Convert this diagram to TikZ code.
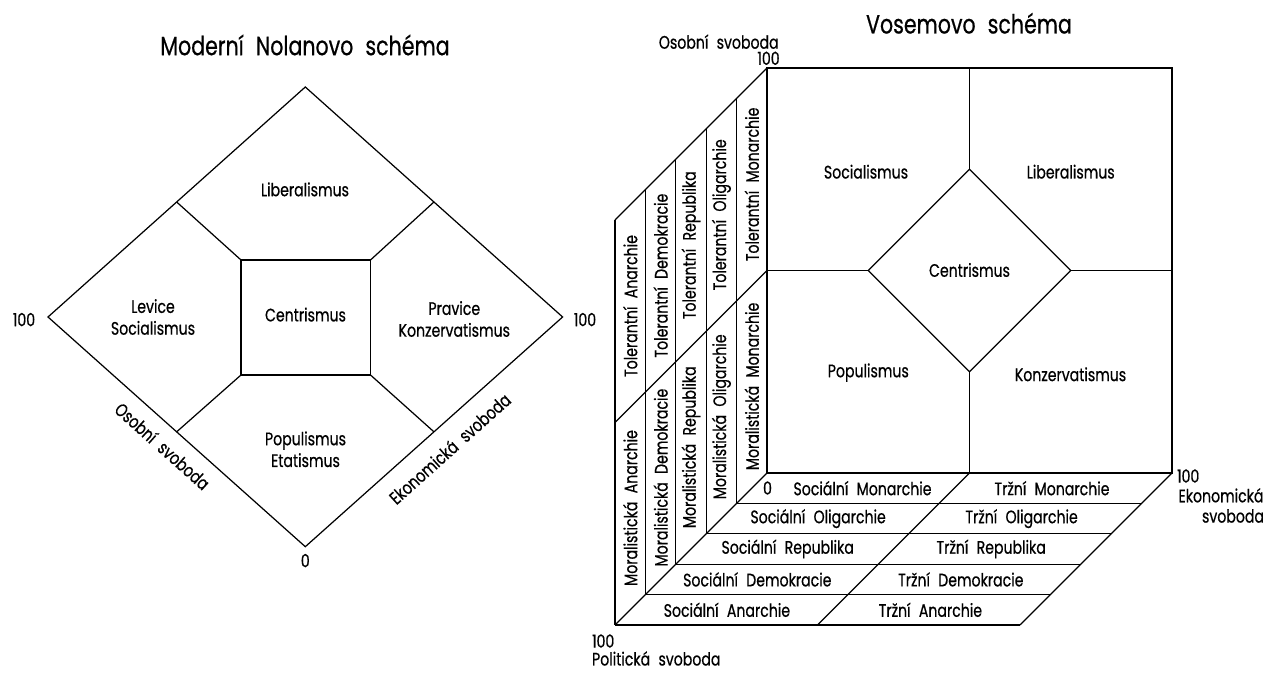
\documentclass[tikz,border=0pt]{standalone}
\usepackage{fontspec}
\setmainfont{Poppins}[FakeStretch=0.78,WordSpace=2.2,FakeBold=0.6]
\usepackage{tikz}
\usetikzlibrary{calc}
\tikzset{
    frame_line/.style={line width=0.7pt, line join=miter},
    region_label/.style={font=\fontsize{10.3}{12.4}\selectfont, inner sep=0pt, align=center},
    axis_label/.style={font=\fontsize{10.3}{12.4}\selectfont, inner sep=0pt},
    title_label/.style={font=\fontsize{15}{18}\selectfont, inner sep=0pt}
}

\begin{document}
\begin{tikzpicture}[x=0.02cm, y=0.02cm]
    \useasboundingbox (0,0) rectangle (1283,672);
    % Nolan diamond
    \coordinate (nT) at (305.3,585);
    \coordinate (nL) at (48,355);
    \coordinate (nR) at (562.6,355);
    \coordinate (nB) at (305.3,125.3);
    \draw[frame_line] (nT) -- (nR) -- (nB) -- (nL) -- cycle;
    \draw[frame_line] (241,297) rectangle (370.5,412);
    \draw[frame_line] ($(nT)!0.5!(nL)$) -- (241,412);
    \draw[frame_line] ($(nT)!0.5!(nR)$) -- (370.5,412);
    \draw[frame_line] ($(nB)!0.5!(nL)$) -- (241,297);
    \draw[frame_line] ($(nB)!0.5!(nR)$) -- (370.5,297);
    \node[title_label] (nolanTitle) at (305,627) {Moderní Nolanovo schéma};
    \node[region_label] (nLib) at (305,482.6) {Liberalismus};
    \node[region_label] (nLev) at (153,355) {Levice\\Socialismus};
    \node[region_label] (nCen) at (305.5,357.4) {Centrismus};
    \node[region_label] (nPra) at (454.3,353) {Pravice\\Konzervatismus};
    \node[region_label] (nPop) at (305.5,222.7) {Populismus\\Etatismus};
    \node[axis_label] (nLeft) at (24,352.4) {100};
    \node[axis_label] (nRight) at (585,352.4) {100};
    \node[axis_label] (nZero) at (305.3,111.4) {0};
    \node[axis_label, rotate=-41.8] (nOso) at (162.6,226) {Osobní svoboda};
    \node[axis_label, rotate=41.8] (nEko) at (449.7,223.5) {Ekonomická svoboda};

    % Vosem cube: front face
    \draw[frame_line] (767,199) rectangle (1172,604);
    \draw[frame_line] (767,401.5) -- (868.25,401.5);
    \draw[frame_line] (1070.75,401.5) -- (1172,401.5);
    \draw[frame_line] (969.5,604) -- (969.5,502.75);
    \draw[frame_line] (969.5,300.25) -- (969.5,199);
    \draw[frame_line] (969.5,502.75) -- (1070.75,401.5) -- (969.5,300.25) -- (868.25,401.5) -- cycle;
    % left wall
    \foreach \k in {1,...,5}
        \draw[frame_line] ({767-30.4*\k},{604-30.4*\k}) -- ({767-30.4*\k},{199-30.4*\k});
    \foreach \y in {604,401.5}
        \draw[frame_line] (767,\y) -- ++(-152,-152);
    % floor
    \foreach \j in {1,...,5}
        \draw[frame_line] ({767-30.4*\j},{199-30.4*\j}) -- ({1172-30.4*\j},{199-30.4*\j});
    \foreach \x in {767,969.5,1172}
        \draw[frame_line] (\x,199) -- ++(-152,-152);
    % labels
    \node[title_label] (vTitle) at (969,648.7) {Vosemovo schéma};
    \node[region_label] (vSoc) at (866,500.3) {Socialismus};
    \node[region_label] (vLib) at (1070.7,500.3) {Liberalismus};
    \node[region_label] (vCen) at (969.5,402) {Centrismus};
    \node[region_label] (vPop) at (868.3,299.3) {Populismus};
    \node[region_label] (vKon) at (1070.5,297.7) {Konzervatismus};
    \foreach \name [count=\k from 0] in {Anarchie,Demokracie,Republika,Oligarchie,Monarchie} {
        \node[region_label, rotate=90] (tol\k) at ({630.2+30.4*\k},{366+30.4*\k}) {Tolerantní \name};
        \node[region_label, rotate=90] (mor\k) at ({630.2+30.4*\k},{164+30.4*\k}) {Moralistická \name};
    }
    \node[region_label] (soc0) at (862.5,183.8) {Sociální Monarchie};
    \foreach \name [count=\j from 1] in {Oligarchie,Republika,Demokracie,Anarchie}
        \node[region_label] (soc\j) at ({848.5-30.4*\j},{183.8-30.4*\j}) {Sociální \name};
    \foreach \name [count=\j from 0] in {Monarchie,Oligarchie,Republika,Demokracie,Anarchie}
        \node[region_label] (trz\j) at ({1052-30.4*\j},{183.8-30.4*\j}) {Tržní \name};
    \node[axis_label] (vZero) at (767.5,184) {0};
    \node[axis_label, anchor=east] (vOso) at (779,630.3) {Osobní svoboda};
    \node[axis_label, anchor=east] (vOsoMax) at (780,613.7) {100};
    \node[axis_label, anchor=west] (vEkoMax) at (1176.7,196) {100};
    \node[axis_label] (vEko) at (1221,176.7) {Ekonomická};
    \node[axis_label] (vEko2) at (1233,156) {svoboda};
    \node[axis_label, anchor=west] (vPolMax) at (591.7,31) {100};
    \node[axis_label, anchor=west] (vPol) at (591.7,13.5) {Politická svoboda};
\end{tikzpicture}
\end{document}
